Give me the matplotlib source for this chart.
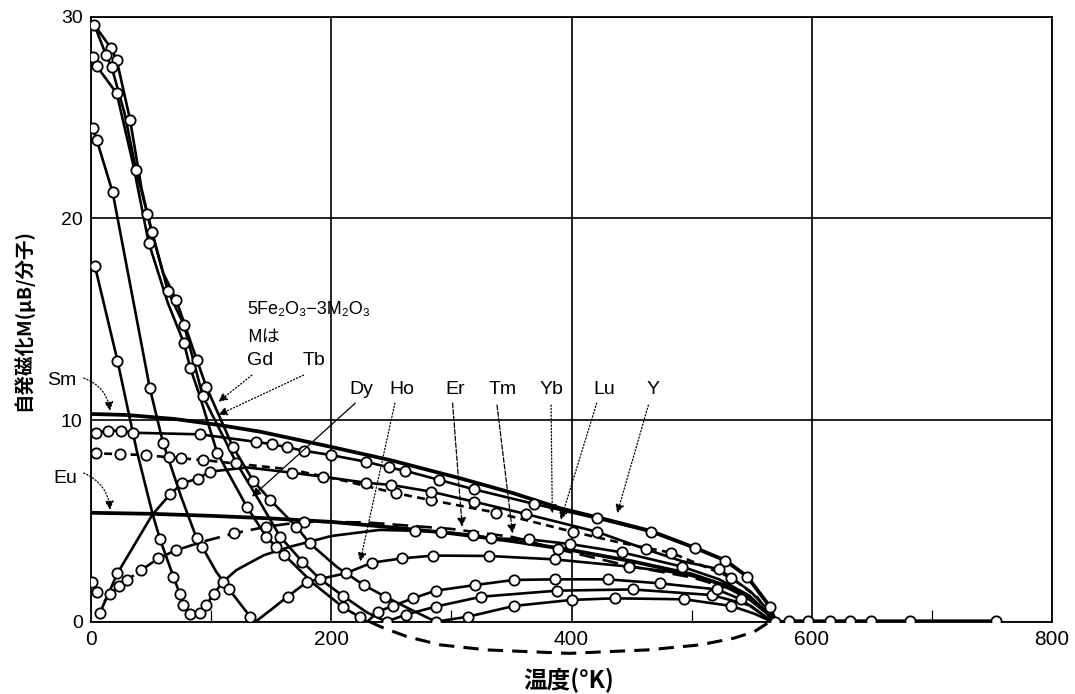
import matplotlib.pyplot as plt

plt.rcParams['font.family'] = ['Liberation Sans', 'DejaVu Sans']
JP = ['Noto Sans CJK JP', 'DejaVu Sans']

# points: (temperature K, spontaneous magnetisation μB per molecule, circle drawn)
sm = [(0, 10.3, 0), (30, 10.25, 0), (70, 10.05, 0), (107, 9.75, 0), (141, 9.42, 0),
      (199, 8.68, 0), (250, 8.0, 0), (308, 7.1, 0), (350, 6.4, 0), (391, 5.62, 0),
      (430, 5.05, 0), (466, 4.5, 0), (503, 3.66, 0), (528, 3.04, 0), (546, 2.26, 0),
      (565, 0.76, 0), (570, 0.0, 0)]

eu = [(0, 5.4, 0), (50, 5.35, 0), (100, 5.25, 0), (150, 5.12, 0), (200, 4.95, 0),
      (250, 4.68, 0), (300, 4.38, 0), (350, 4.0, 0), (400, 3.55, 0), (450, 3.0, 0),
      (500, 2.35, 0), (530, 1.75, 0), (550, 1.1, 0), (565, 0.35, 0), (570, 0.0, 0)]

y_ = [(0, 9.35, 0), (4, 9.37, 1), (14, 9.47, 1), (25, 9.47, 1), (35, 9.37, 1),
      (91, 9.29, 1), (137, 8.92, 1), (151, 8.8, 1), (163, 8.65, 1), (177, 8.48, 1),
      (200, 8.26, 1), (229, 7.93, 1), (248, 7.65, 1), (261, 7.49, 1), (290, 7.03, 1),
      (319, 6.56, 1), (369, 5.84, 1), (421, 5.13, 1), (466, 4.46, 1), (503, 3.64, 1),
      (528, 3.02, 1), (546, 2.23, 1), (565, 0.74, 1), (569, 0.0, 0)]

lu = [(0, 8.35, 0), (4, 8.35, 1), (24, 8.31, 1), (46, 8.26, 1), (65, 8.15, 1),
      (75, 8.1, 1), (93, 8.02, 1), (130, 7.78, 0), (166, 7.55, 0), (210, 7.0, 0),
      (254, 6.37, 1), (283, 6.03, 1), (337, 5.41, 1), (401, 4.46, 1), (442, 3.9, 0),
      (483, 3.42, 1), (533, 2.18, 1), (555, 1.2, 0), (568, 0.0, 0)]

yb = [(7.5, 0.45, 1), (22, 2.4, 1), (51, 5.3, 0), (66, 6.33, 1), (76, 6.86, 1),
      (89, 7.1, 1), (99, 7.44, 1), (130, 7.65, 0), (167, 7.39, 1), (193, 7.19, 1),
      (229, 6.89, 1), (250, 6.78, 1), (283, 6.45, 1), (319, 5.95, 1), (362, 5.34, 1),
      (421, 4.46, 1), (462, 3.59, 1), (492, 3.0, 0), (523, 2.6, 1), (549, 1.5, 0),
      (565, 0.5, 0), (570, 0.0, 0)]

tm = [(0.5, 1.98, 1), (5, 1.49, 1), (11, 1.0, 0), (16, 1.37, 1), (23, 1.77, 1),
      (30, 2.07, 1), (42, 2.56, 1), (56, 3.14, 1), (71, 3.55, 1), (95, 4.0, 0),
      (119, 4.38, 1), (146, 4.71, 1), (177, 4.96, 1), (230, 4.92, 0), (300, 4.6, 0),
      (351, 4.2, 0), (389, 3.59, 1), (448, 2.76, 1), (500, 2.2, 0), (540, 1.5, 0),
      (560, 0.6, 0), (568, 0.0, 0)]

er = [(3.3, 17.63, 1), (22, 12.95, 1), (38, 8.5, 0), (51, 5.4, 0), (57.5, 4.08, 1),
      (68.6, 2.23, 1), (74, 1.37, 1), (77, 0.83, 1), (82, 0.38, 1), (86, 0.25, 0),
      (91, 0.42, 1), (96, 0.83, 1), (102, 1.37, 1), (110, 1.98, 1), (121, 2.56, 0),
      (144, 3.3, 0), (166, 3.72, 0), (200, 4.25, 0), (240, 4.55, 0), (270, 4.51, 1),
      (291, 4.46, 1), (318, 4.3, 1), (333, 4.13, 1), (365, 4.08, 1), (399, 3.85, 1),
      (442, 3.44, 1), (492, 2.73, 1), (523, 2.1, 0), (548, 1.3, 0), (565, 0.3, 0),
      (570, 0.0, 0)]

ho = [(1.4, 24.46, 1), (4.7, 23.9, 1), (18, 21.3, 1), (49, 11.57, 1), (60, 8.87, 1),
      (75, 6.2, 0), (88, 4.13, 1), (92.5, 3.72, 1), (104, 2.5, 0), (115, 1.6, 1),
      (132.5, 0.25, 1), (137, 0.0, 0), (150, 0.6, 0), (163.6, 1.24, 1), (180, 1.98, 1),
      (212, 2.4, 1), (234, 2.93, 1), (259, 3.14, 1), (285, 3.28, 1), (331, 3.26, 1),
      (386, 3.09, 1), (448, 2.73, 1), (492, 2.4, 0), (523, 1.9, 0), (548, 1.1, 0),
      (565, 0.3, 0), (570, 0.0, 0)]

gd = [(0, 29.8, 0), (2.8, 29.6, 1), (16.4, 28.46, 1), (21.4, 27.85, 1), (32.5, 24.9, 1),
      (42, 21.5, 0), (50.6, 19.3, 1), (60, 17.3, 0), (71, 15.95, 1), (88, 13.0, 1),
      (96, 11.65, 1), (118, 8.68, 1), (135, 6.99, 1), (149, 6.05, 1), (171, 4.71, 1),
      (182, 3.89, 1), (205, 2.7, 0), (227, 1.82, 1), (245, 1.24, 1), (268, 0.55, 0),
      (287, 0.0, 1), (314, 0.25, 1), (352, 0.78, 1), (400, 1.08, 1), (436, 1.16, 1),
      (494, 1.11, 1), (533, 0.78, 1), (552, 0.4, 0), (565, 0.05, 0)]

tb = [(2.8, 29.6, 0), (12.5, 28.1, 1), (17.2, 27.5, 1), (28, 25.2, 0), (37.5, 22.4, 1),
      (47, 20.2, 1), (64, 16.4, 1), (77.5, 14.7, 1), (93, 11.2, 1), (121, 7.88, 1),
      (140, 6.0, 0), (157.5, 4.21, 1), (176, 2.97, 1), (191, 2.1, 1), (210, 1.27, 1),
      (230, 0.45, 0), (246, 0.0, 1), (262, 0.35, 1), (287, 0.75, 1), (325, 1.24, 1),
      (388, 1.54, 1), (451, 1.6, 1), (517, 1.32, 1), (549, 0.8, 0), (565, 0.1, 0)]

dy = [(0, 28.1, 0), (1.4, 28.0, 1), (4.7, 27.55, 1), (21.4, 26.2, 1), (35, 22.7, 0),
      (48, 18.8, 1), (64, 15.8, 0), (77.5, 13.8, 1), (82.5, 12.6, 1), (90, 11.3, 0),
      (105, 8.38, 1), (130, 5.67, 1), (146, 4.21, 1), (154, 3.72, 1), (161, 3.31, 1),
      (185, 1.9, 0), (210, 0.71, 1), (224, 0.22, 1), (230, 0.0, 0), (239, 0.5, 1),
      (251, 0.78, 1), (268, 1.16, 1), (287, 1.54, 1), (320, 1.82, 1), (352, 2.07, 1),
      (386, 2.1, 1), (430, 2.1, 1), (474, 1.9, 1), (521, 1.6, 1), (541, 1.11, 1),
      (560, 0.3, 0)]

# paramagnetic tail above the Curie point
tail = [(569, 0.0, 1), (581, 0.05, 1), (597, 0.05, 1), (615, 0.05, 1), (632, 0.05, 1),
        (649, 0.05, 1), (682, 0.05, 1), (753, 0.05, 1)]

# negative branch drawn below the axis
below_T = [232, 241, 263, 291, 330, 398, 463, 507, 535, 552, 563, 568]
below_M = [0, -0.25, -0.74, -1.15, -1.4, -1.57, -1.4, -1.15, -0.82, -0.5, -0.08, 0]

# label text, position (T, M)
names = ['Dy', 'Ho', 'Er', 'Tm', 'Yb', 'Lu', 'Y']
name_T = [225, 259, 303, 342.5, 383, 427.5, 467.5]
# pointer lines: start (T, M) -> tip (T, M), line style
pointers = [
    ((134, 12.23), (106, 10.9), ':'),      # Gd
    ((177, 12.23), (106, 10.25), ':'),     # Tb
    ((220, 10.84), (134, 6.2), '-'),       # Dy
    ((253, 10.84), (224, 2.98), ':'),      # Ho
    ((301, 10.84), (309, 4.71), '--'),     # Er
    ((338, 10.74), (351, 4.38), '--'),     # Tm
    ((383, 10.74), (384, 5.37), ':'),      # Yb
    ((421, 10.84), (391, 5.04), ':'),      # Lu
    ((464, 10.74), (438, 5.37), ':'),      # Y
]

fig = plt.figure(figsize=(10.75, 6.94), dpi=100)
ax = fig.add_axes([91 / 1075, 1 - 621.7 / 694, (1052 - 91) / 1075, (621.7 - 16.7) / 694])


def draw(curve, ls='-', lw=1.9, dashes=None):
    T = [p[0] for p in curve]
    M = [p[1] for p in curve]
    line, = ax.plot(T, M, color='k', ls=ls, lw=lw, zorder=2)
    if dashes:
        line.set_dashes(dashes)
    mk = [p for p in curve if p[2]]
    if mk:
        ax.plot([p[0] for p in mk], [p[1] for p in mk], 'o', ms=7.4, mfc='white',
                mec='k', mew=1.3, zorder=3)


draw(sm, lw=2.7)
draw(eu, lw=2.7)
draw(y_)
draw(lu, dashes=(3, 2))
draw(yb)
draw(tm, dashes=(6, 3))
draw(er)
draw(ho)
draw(gd)
draw(tb)
draw(dy)
draw(tail)
ax.plot(below_T, below_M, color='k', lw=2.2, dashes=(5, 3), clip_on=False, zorder=2)

ax.set_xlim(0, 800)
ax.set_ylim(0, 30)
ax.set_xticks([0, 200, 400, 600, 800])
ax.set_yticks([0, 10, 20, 30])
ax.set_xticks([100, 300, 500, 700], minor=True)
ax.tick_params(which='major', length=0, pad=6)
ax.tick_params(axis='x', labelsize=15)
ax.tick_params(axis='y', labelsize=14)
ax.tick_params(which='minor', direction='in', length=8.5, width=0.9)
ax.grid(True, color='k', lw=1.2)
for s in ax.spines.values():
    s.set_linewidth(1.3)

# element labels
ax.text(-24, 11.98, 'Sm', ha='center', va='center', fontsize=14)
ax.text(-21.7, 7.12, 'Eu', ha='center', va='center', fontsize=14)
ax.text(130, 15.46, '5Fe\u2082O\u2083\u22123M\u2082O\u2083', ha='left', va='center', fontsize=13)
ax.text(130, 14.12, 'Mは', ha='left', va='center', fontsize=13, family=JP)
ax.text(130, 12.97, 'Gd', ha='left', va='center', fontsize=14)
ax.text(175.8, 12.97, 'Tb', ha='left', va='center', fontsize=14)
for n, t in zip(names, name_T):
    ax.text(t, 11.49, n, ha='center', va='center', fontsize=14)

arrow = dict(arrowstyle='-|>', color='k', lw=0.9, mutation_scale=13,
             shrinkA=0, shrinkB=0)
for (x0, y0), (x1, y1), ls in pointers:
    ax.annotate('', xy=(x1, y1), xytext=(x0, y0),
                arrowprops=dict(arrow, linestyle=ls), annotation_clip=False)
ax.annotate('', xy=(15.8, 10.45), xytext=(-6, 12.08), annotation_clip=False,
            arrowprops=dict(arrow, linestyle=':', connectionstyle='arc3,rad=-0.3'))
ax.annotate('', xy=(15.8, 5.54), xytext=(-6, 7.37), annotation_clip=False,
            arrowprops=dict(arrow, linestyle=':', connectionstyle='arc3,rad=-0.3'))

fig.text(23 / 1075, 1 - 320 / 694, '自発磁化M(μB/分子)', rotation=90, ha='center',
         va='center', fontsize=14, fontweight='bold', family=JP)
fig.text(569 / 1075, 1 - 680 / 694, '温度(°K)', ha='center', va='center',
         fontsize=17, fontweight='bold', family=JP)

fig.savefig('out.png', dpi=100)
